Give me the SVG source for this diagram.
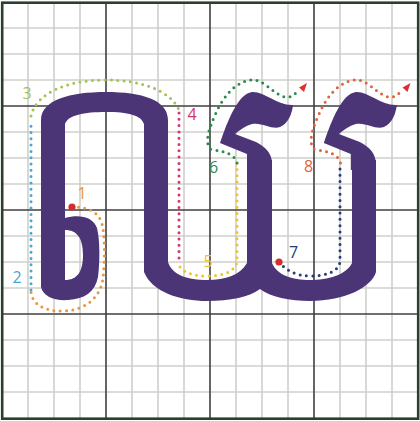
<svg xmlns="http://www.w3.org/2000/svg" width="420" height="421" viewBox="0 0 420 421">
<style>
.thin{stroke:#cfcfca;stroke-width:1.6;fill:none}
.thick{stroke:#404040;stroke-width:1.6;fill:none}
.glyph{fill:#4b3577}
.dot{fill:none;stroke-width:3;stroke-linecap:round;stroke-dasharray:0 6.3}
.lbl{font-family:"Open Sans","Noto Sans",sans-serif;font-size:16px;text-anchor:middle}
.start{fill:#d42d2d}
.arrow{fill:#d93232}
</style>
<rect width="420" height="421" fill="#ffffff"/>
<g id="grid">
<path class="thin" d="M28,2V418M54,2V418M80,2V418M132,2V418M158,2V418M184,2V418M236,2V418M262,2V418M288,2V418M340,2V418M366,2V418M392,2V418M2,28H418M2,54H418M2,80H418M2,132H418M2,158H418M2,184H418M2,236H418M2,262H418M2,288H418M2,340H418M2,366H418M2,392H418"/>
<path class="thick" d="M106,2V418M210,2V418M314,2V418M2,106H418M2,210H418M2,314H418"/>
<rect x="2.2" y="2.7" width="416" height="416" fill="none" stroke="#2b3f2e" stroke-width="2.6"/>
</g>
<g id="glyph">
<path class="glyph" fill-rule="evenodd" d="M41,287 L41,120 C41,100 70,92 106,92 C142,92 168,100 168,120 L168,262 C172,275 188,280 207,280 C226,280 240,275 247,263 L247,160 L272,160 L272,263 C277,275 292,280 310,280 C328,280 346,275 352,263 L352,160 L376,160 L376,272 C372,287 345,301 310,301 C290,301 270,297 260,289 C250,297 230,301 207,301 C180,301 152,292 144,272 L144,124 C141,115 128,112 106,112 C84,112 68,115 65,124 L65,218 C78,214 93,216 97,228 C100,240 100,262 98,277 C95,292 85,299 68,300 C54,301 43,296 41,287 Z M65,230 C77,230 83,238 83,255 C83,272 77,280 65,280 Z"/>
<path id="hook1" class="glyph" d="M247,170 L247,154 L220,143 C228,120 238,94 252,92 C264,91 278,106 293,105 C292,114 288,124 280,127 C272,130 262,122 252,124 C245,126 240,130 235,134 L256,142 C266,147 272,154 272,163 L272,170 Z"/>
<path id="hook2" class="glyph" transform="translate(103.8,0)" d="M247,170 L247,154 L220,143 C228,120 238,94 252,92 C264,91 278,106 293,105 C292,114 288,124 280,127 C272,130 262,122 252,124 C245,126 240,130 235,134 L256,142 C266,147 272,154 272,163 L272,170 Z"/>
</g>
<g id="connectors">
<path id="s1" class="dot" stroke="#e8963c" d="M72,207 C88,207 99,212 102,224 C105,236 105,262 103,278 C101,295 88,310 64,311 C45,312 32,304 31,292"/>
<path id="s2" class="dot" stroke="#4aa6d6" d="M31,290 L31,120"/>
<path id="s3" class="dot" stroke="#a3c257" d="M31,116 C36,94 65,80 106,80 C140,80 170,90 179,110"/>
<path id="s4" class="dot" stroke="#d6336f" d="M179,113 L179,264"/>
<path id="s5" class="dot" stroke="#f2c232" d="M180,267 C186,274 195,276 207,276 C222,276 234,273 237,262 L237,163"/>
<path id="s6" class="dot" stroke="#2b8a4e" d="M237,163 C235,155 226,151 212,150 C206,147 207,136 210,128 C216,110 228,84 250,80 C264,78 272,94 285,97 C290,98 294,95 298,91"/>
<polygon class="arrow" points="307,83 299,87.5 304,92"/>
<path id="s7" class="dot" stroke="#253a7a" d="M279,262 C286,270 296,276 310,276 C326,276 338,272 340,262 L340,163"/>
<path id="s8" class="dot" stroke="#e2623e" d="M340.5,163 C338.5,155 329.5,151 315.5,150 C309.5,147 310.5,136 313.5,128 C319.5,110 331.5,84 353.5,80 C367.5,78 375.5,94 388.5,97 C393.5,98 397.5,95 401.5,91"/>
<polygon class="arrow" points="410.5,83 402.5,87.5 407.5,92"/>
<circle class="start" cx="72" cy="207" r="3.6"/>
<circle class="start" cx="279" cy="262" r="3.6"/>
</g>
<g id="labels">
<text class="lbl" x="82" y="199" fill="#e8963c">1</text>
<text class="lbl" x="17" y="283" fill="#4aa6d6">2</text>
<text class="lbl" x="27" y="99" fill="#a3c257">3</text>
<text class="lbl" x="192" y="120" fill="#d6336f">4</text>
<text class="lbl" x="208" y="266.5" fill="#f2c232">5</text>
<text class="lbl" x="213.5" y="172.5" fill="#2b8a4e">6</text>
<text class="lbl" x="293.5" y="257.5" fill="#253a7a">7</text>
<text class="lbl" x="308.5" y="172" fill="#e2623e">8</text>
</g>
</svg>
